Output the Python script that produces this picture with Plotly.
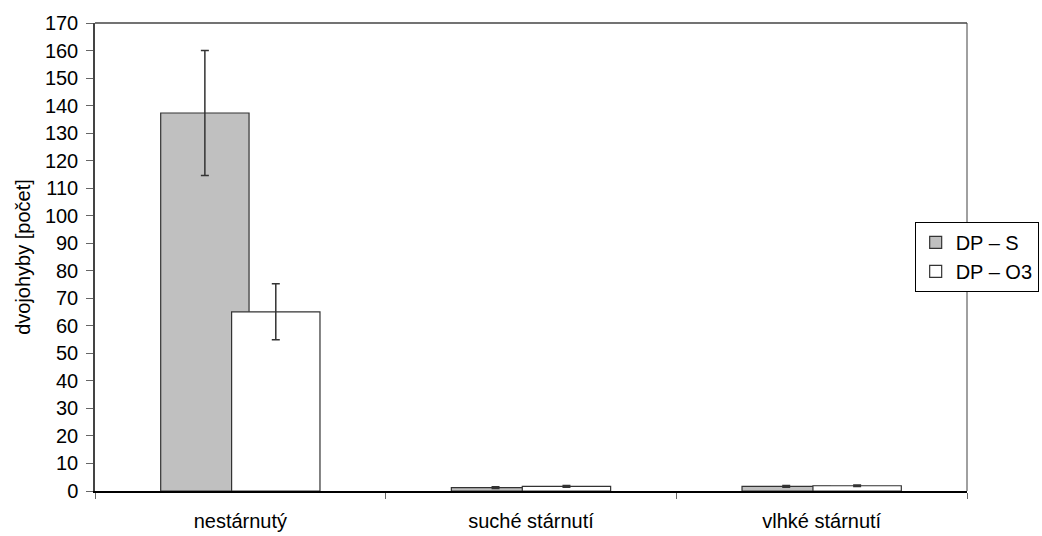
import plotly.graph_objects as go

categories = ["nestárnutý", "suché stárnutí", "vlhké stárnutí"]
series_names = ["DP – S", "DP – O3"]
dp_s = [137.3, 1.2, 1.7]
dp_s_err = [22.7, 0.3, 0.3]
dp_o3 = [65.1, 1.7, 1.9]
dp_o3_err = [10.2, 0.3, 0.3]
y_ticks = list(range(0, 171, 10))

FONT = "Liberation Sans, Arial, sans-serif"
OUTLINE = "#333333"
FS = 20

fig = go.Figure()
fig.add_trace(go.Bar(
    x=categories, y=dp_s, name=series_names[0],
    width=0.304, offset=-0.274,
    marker=dict(color="#c0c0c0", line=dict(color=OUTLINE, width=1.2)),
    error_y=dict(type="data", array=dp_s_err, visible=True,
                 color=OUTLINE, thickness=1.5, width=4),
))
fig.add_trace(go.Bar(
    x=categories, y=dp_o3, name=series_names[1],
    width=0.304, offset=-0.03,
    marker=dict(color="#ffffff", line=dict(color=OUTLINE, width=1.2)),
    error_y=dict(type="data", array=dp_o3_err, visible=True,
                 color=OUTLINE, thickness=1.5, width=4),
))

# top and right frame lines of the plot area
fig.add_shape(type="line", xref="paper", yref="paper", x0=0, x1=1, y0=1, y1=1,
              line=dict(color="#444444", width=1.5), layer="above")
fig.add_shape(type="line", xref="paper", yref="paper", x0=1, x1=1, y0=0, y1=1,
              line=dict(color="#808080", width=1.5), layer="below")

fig.update_layout(
    width=1042, height=536,
    margin=dict(l=95, r=75, t=23, b=45, autoexpand=False),
    barmode="overlay",
    plot_bgcolor="white", paper_bgcolor="white",
    font=dict(family=FONT, size=FS, color="#000000"),
    showlegend=True,
    legend=dict(
        x=0.94, y=0.575, xanchor="left", yanchor="top",
        bgcolor="white", bordercolor="#000000", borderwidth=1,
        font=dict(family=FONT, size=FS, color="#000000"),
        itemwidth=30, tracegroupgap=0,
    ),
)
fig.update_xaxes(
    type="category", range=[-0.5, 2.5],
    showline=True, linecolor="#000000", linewidth=1.5,
    ticks="outside", tickson="boundaries", ticklen=6, tickcolor="#666666",
    showgrid=False, tickfont=dict(size=FS), ticklabelstandoff=11,
    automargin=False,
)
fig.update_yaxes(
    range=[0, 170], tickvals=y_ticks,
    showline=True, linecolor="#444444", linewidth=1.5,
    ticks="outside", ticklen=7, tickcolor="#666666",
    showgrid=False, zeroline=False, tickfont=dict(size=FS), ticklabelstandoff=4,
    title=dict(text="dvojohyby [počet]", font=dict(size=FS), standoff=9),
    automargin=False,
)

fig.write_html("out.html")
